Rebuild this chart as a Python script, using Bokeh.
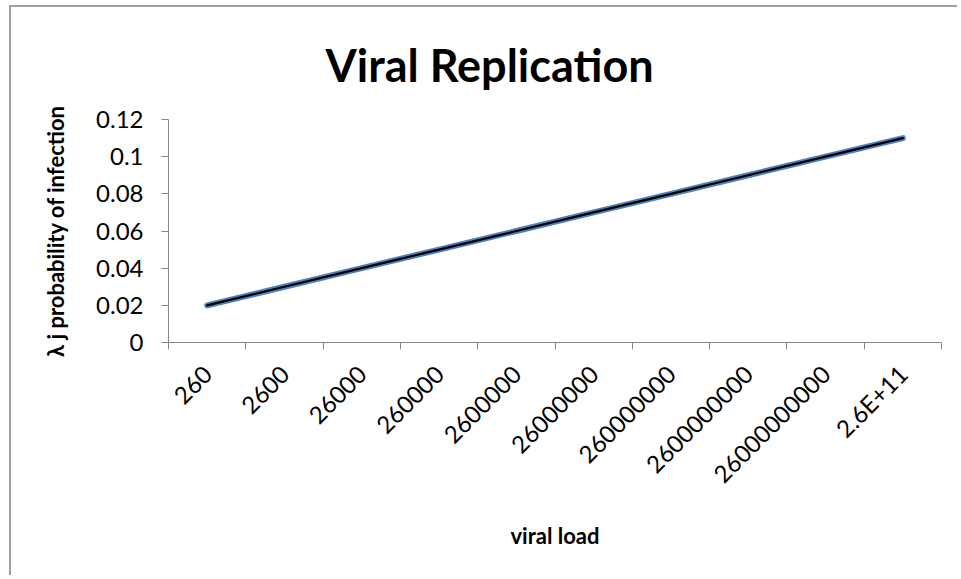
import math
from bokeh.plotting import figure
from bokeh.models import Range1d, FixedTicker
from bokeh.embed import file_html
from bokeh.resources import INLINE

# ---- data ----
categories = ["260", "2600", "26000", "260000", "2600000", "26000000",
              "260000000", "2600000000", "26000000000", "2.6E+11"]
probability = [0.02, 0.03, 0.04, 0.05, 0.06, 0.07, 0.08, 0.09, 0.10, 0.11]
y_ticks = [0, 0.02, 0.04, 0.06, 0.08, 0.10, 0.12]
y_tick_labels = ["0", "0.02", "0.04", "0.06", "0.08", "0.1", "0.12"]
title_text = "Viral Replication"
x_title = "viral load"
y_title = "λ j probability of infection"

FONT = "Lato"
GRAY = "#868686"

n = len(categories)
x_pos = [i + 0.5 for i in range(n)]

p = figure(width=948, height=570, output_backend="svg", toolbar_location=None,
           x_range=Range1d(0, n), y_range=Range1d(0, y_ticks[-1]),
           min_border_left=157, min_border_right=18,
           min_border_top=110, min_border_bottom=235)
p.styles = {"margin-left": "9px", "margin-top": "5px",
            "border-left": "2px solid #a0a0a0", "border-top": "2px solid #a0a0a0"}
p.outline_line_color = None
p.xgrid.visible = False
p.ygrid.visible = False
p.background_fill_color = "white"
p.border_fill_color = "white"

# chart title
p.title.text = title_text
p.title.text_font = FONT
p.title.text_font_style = "bold"
p.title.text_font_size = "45px"
p.title.text_color = "black"
p.title.align = "left"
p.title.offset = 157
try:
    p.title.standoff = 56
except Exception:
    pass

# series: blue glow with black core
p.line(x_pos, probability, line_color="#4F81BD", line_width=6, line_cap="round")
p.line(x_pos, probability, line_color="black", line_width=2.2, line_cap="round")

# x axis
xa = p.xaxis[0]
xa.ticker = FixedTicker(ticks=x_pos, minor_ticks=list(range(n + 1)))
xa.major_label_overrides = {x: lab for x, lab in zip(x_pos, categories)}
xa.major_tick_out = 0
xa.major_tick_in = 0
xa.minor_tick_out = 7
xa.minor_tick_in = 0
xa.minor_tick_line_color = GRAY
xa.axis_line_color = GRAY
xa.major_label_orientation = math.pi / 4
xa.major_label_standoff = 20
xa.major_label_text_font = FONT
xa.major_label_text_font_size = "24px"
xa.major_label_text_color = "black"
xa.axis_label = x_title
xa.axis_label_text_font = FONT
xa.axis_label_text_font_style = "bold"
xa.axis_label_text_font_size = "22px"
xa.axis_label_text_color = "black"
xa.axis_label_standoff = 21

# y axis
ya = p.yaxis[0]
ya.ticker = FixedTicker(ticks=y_ticks, minor_ticks=[])
ya.major_label_overrides = {t: lab for t, lab in zip(y_ticks, y_tick_labels)}
ya.major_tick_out = 7
ya.major_tick_in = 0
ya.major_tick_line_color = GRAY
ya.axis_line_color = GRAY
ya.major_label_standoff = 18
ya.major_label_text_font = FONT
ya.major_label_text_font_size = "24px"
ya.major_label_text_color = "black"
ya.axis_label = y_title
ya.axis_label_text_font = FONT
ya.axis_label_text_font_style = "bold"
ya.axis_label_text_font_size = "22px"
ya.axis_label_text_color = "black"
ya.axis_label_standoff = 24

open("out.html", "w").write(file_html(p, INLINE))
